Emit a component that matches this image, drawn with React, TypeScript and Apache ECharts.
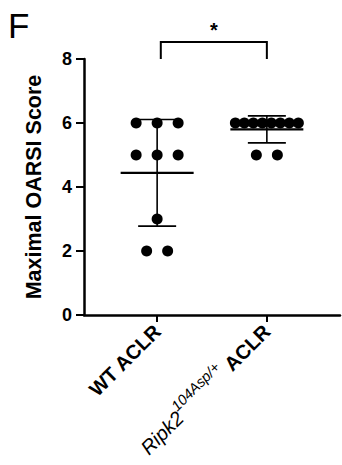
import React, { useEffect, useRef } from "react";
import * as echarts from "echarts";

// ---- data ----
const categories = ["WT ACLR", "Ripk2 104Asp/+ ACLR"];
const categoryPositions = [1, 2.5];
const wtScores = [6, 6, 6, 5, 5, 5, 3, 2, 2];
const ripkScores = [6, 6, 6, 6, 6, 6, 6, 6, 5, 5];
const yTicks = [0, 2, 4, 6, 8];
const significanceLabel = "*";
const panelLabel = "F";
const yTitle = "Maximal OARSI Score";

const FONT = 'Arial, "Liberation Sans", Helvetica, sans-serif';
const X_MIN = 0;
const X_MAX = 3.5;
const PX_PER_UNIT = 256 / (X_MAX - X_MIN);

function jitter(values: number[], center: number): number[][] {
  const groups: Record<string, number[]> = {};
  values.forEach((v) => {
    (groups[v] = groups[v] || []).push(v);
  });
  const out: number[][] = [];
  Object.keys(groups)
    .sort((a, b) => Number(b) - Number(a))
    .forEach((k) => {
      const g = groups[k];
      const n = g.length;
      const s = n > 1 ? Math.min(21 / PX_PER_UNIT, 63 / PX_PER_UNIT / (n - 1)) : 0;
      g.forEach((v, i) => out.push([center + (i - (n - 1) / 2) * s, v]));
    });
  return out;
}

function meanSd(values: number[]) {
  const m = values.reduce((a, b) => a + b, 0) / values.length;
  const v = values.reduce((a, b) => a + (b - m) * (b - m), 0) / (values.length - 1);
  return [m, Math.sqrt(v)];
}

export default function App() {
  const ref = useRef<HTMLDivElement>(null);
  useEffect(() => {
    if (!ref.current) return;
    const chart = echarts.init(ref.current, undefined, { renderer: "svg" });
    const groupsData = [wtScores, ripkScores];
    const stats = groupsData.map((g, i) => {
      const [m, sd] = meanSd(g);
      return [categoryPositions[i], m, sd];
    });

    chart.setOption({
      animation: false,
      backgroundColor: "#fff",
      textStyle: { fontFamily: FONT },
      grid: { left: 84, top: 59, right: 2, bottom: 150, containLabel: false, outerBoundsMode: "none" },
      graphic: [
        {
          type: "text",
          left: 8,
          top: 8,
          style: { text: panelLabel, font: `normal 35px ${FONT}`, fill: "#000" },
        },
      ],
      xAxis: {
        type: "value",
        min: X_MIN,
        max: X_MAX,
        splitLine: { show: false },
        axisLine: { show: true, onZero: false, lineStyle: { color: "#000", width: 2.5 } },
        axisTick: { show: true, customValues: categoryPositions, length: 7, lineStyle: { color: "#000", width: 2 } },
        axisLabel: {
          show: true,
          customValues: categoryPositions,
          rotate: 45,
          margin: 13,
          formatter: (v: number) =>
            v === categoryPositions[0] ? `{b|${categories[0]}}` : "{it|Ripk2}{sup|104Asp/+}{b| ACLR}",
          rich: {
            b: { fontFamily: FONT, fontWeight: "bold", fontSize: 20, color: "#000" },
            it: { fontFamily: FONT, fontStyle: "italic", fontSize: 20, color: "#000" },
            sup: { fontFamily: FONT, fontStyle: "italic", fontSize: 14.5, color: "#000", padding: [0, 0, 18, 0] },
          },
        },
      },
      yAxis: {
        type: "value",
        min: yTicks[0],
        max: yTicks[yTicks.length - 1],
        interval: 2,
        splitLine: { show: false },
        axisLine: { show: true, lineStyle: { color: "#000", width: 2.5 } },
        axisTick: { show: true, length: 8, lineStyle: { color: "#000", width: 2 } },
        axisLabel: { margin: 12, fontFamily: FONT, fontWeight: "bold", fontSize: 18, color: "#000" },
        name: yTitle,
        nameLocation: "middle",
        nameGap: 39,
        nameTextStyle: { fontFamily: FONT, fontWeight: "bold", fontSize: 21.5, color: "#000" },
      },
      series: [
        {
          type: "custom",
          data: stats,
          renderItem: (_p: any, api: any) => {
            const x = api.value(0);
            const m = api.value(1);
            const sd = api.value(2);
            const pm = api.coord([x, m]);
            const pu = api.coord([x, m + sd]);
            const pl = api.coord([x, m - sd]);
            const st = (w: number) => ({ stroke: "#000", lineWidth: w });
            return {
              type: "group",
              children: [
                { type: "line", shape: { x1: pm[0] - 36.5, y1: pm[1], x2: pm[0] + 36.5, y2: pm[1] }, style: st(2.2) },
                { type: "line", shape: { x1: pu[0], y1: pu[1], x2: pl[0], y2: pl[1] }, style: st(1.6) },
                { type: "line", shape: { x1: pu[0] - 19, y1: pu[1], x2: pu[0] + 19, y2: pu[1] }, style: st(1.6) },
                { type: "line", shape: { x1: pl[0] - 19, y1: pl[1], x2: pl[0] + 19, y2: pl[1] }, style: st(1.6) },
              ],
            };
          },
          z: 1,
        },
        {
          type: "scatter",
          data: jitter(wtScores, categoryPositions[0]),
          symbol: "circle",
          symbolSize: 11,
          itemStyle: { color: "#000", opacity: 1 },
          z: 2,
        },
        {
          type: "scatter",
          data: jitter(ripkScores, categoryPositions[1]),
          symbol: "circle",
          symbolSize: 11,
          itemStyle: { color: "#000", opacity: 1 },
          z: 2,
        },
        {
          type: "custom",
          clip: false,
          data: [[1.05, 2.5, 8, 8.53, 8.97]],
          renderItem: (_p: any, api: any) => {
            const a = api.coord([api.value(0), api.value(2)]);
            const b = api.coord([api.value(0), api.value(3)]);
            const c = api.coord([api.value(1), api.value(3)]);
            const d = api.coord([api.value(1), api.value(2)]);
            const s = api.coord([(api.value(0) + api.value(1)) / 2, api.value(4)]);
            return {
              type: "group",
              children: [
                {
                  type: "polyline",
                  shape: { points: [a, b, c, d] },
                  style: { stroke: "#000", lineWidth: 2, fill: null },
                },
                {
                  type: "text",
                  x: s[0],
                  y: s[1] + 2,
                  style: {
                    text: significanceLabel,
                    font: `bold 20px ${FONT}`,
                    fill: "#000",
                    align: "center",
                    verticalAlign: "middle",
                  },
                },
              ],
            };
          },
          z: 3,
        },
      ],
    });
    return () => chart.dispose();
  }, []);
  return <div ref={ref} style={{ position: "fixed", left: 0, top: 0, width: 342, height: 465 }} />;
}
